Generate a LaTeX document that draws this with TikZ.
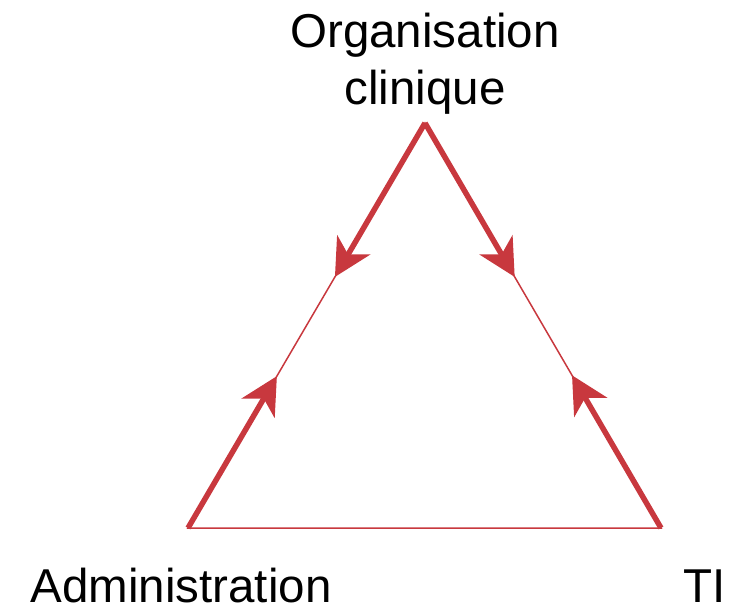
\documentclass[tikz,border=0pt]{standalone}
\usepackage{fontspec}
\setmainfont{Liberation Sans}
\usetikzlibrary{arrows.meta,calc}
\definecolor{edgered}{RGB}{200,56,62}
\tikzset{
  lbl/.style={inner sep=0pt, anchor=base, font=\fontsize{47.5}{56}\selectfont, text=black},
  thinedge/.style={draw=edgered, line width=1.5pt},
  thickarrow/.style={draw=edgered, line width=5.5pt, line cap=butt,
    -{Stealth[length=37pt, width=38pt, inset=11pt]}},
}
\begin{document}
\begin{tikzpicture}[x=1pt, y=-1pt]
\useasboundingbox (0,0) rectangle (741,614);
\coordinate (A) at (425,123);
\coordinate (B) at (188,528);
\coordinate (C) at (661,528);
\node[lbl] (org1) at (425,47) {Organisation};
\node[lbl] (org2) at (425,104) {clinique};
\node[lbl] (adm) at (181,602) {Administration};
\node[lbl] (ti) at (705,602) {TI};
\draw[thinedge] (A) -- (B) -- (C) -- cycle;
\draw[thickarrow] (A) -- ($(A)!0.38!(B)$);
\draw[thickarrow] (A) -- ($(A)!0.38!(C)$);
\draw[thickarrow] (B) -- ($(B)!0.375!(A)$);
\draw[thickarrow] (C) -- ($(C)!0.377!(A)$);
\end{tikzpicture}
\end{document}
